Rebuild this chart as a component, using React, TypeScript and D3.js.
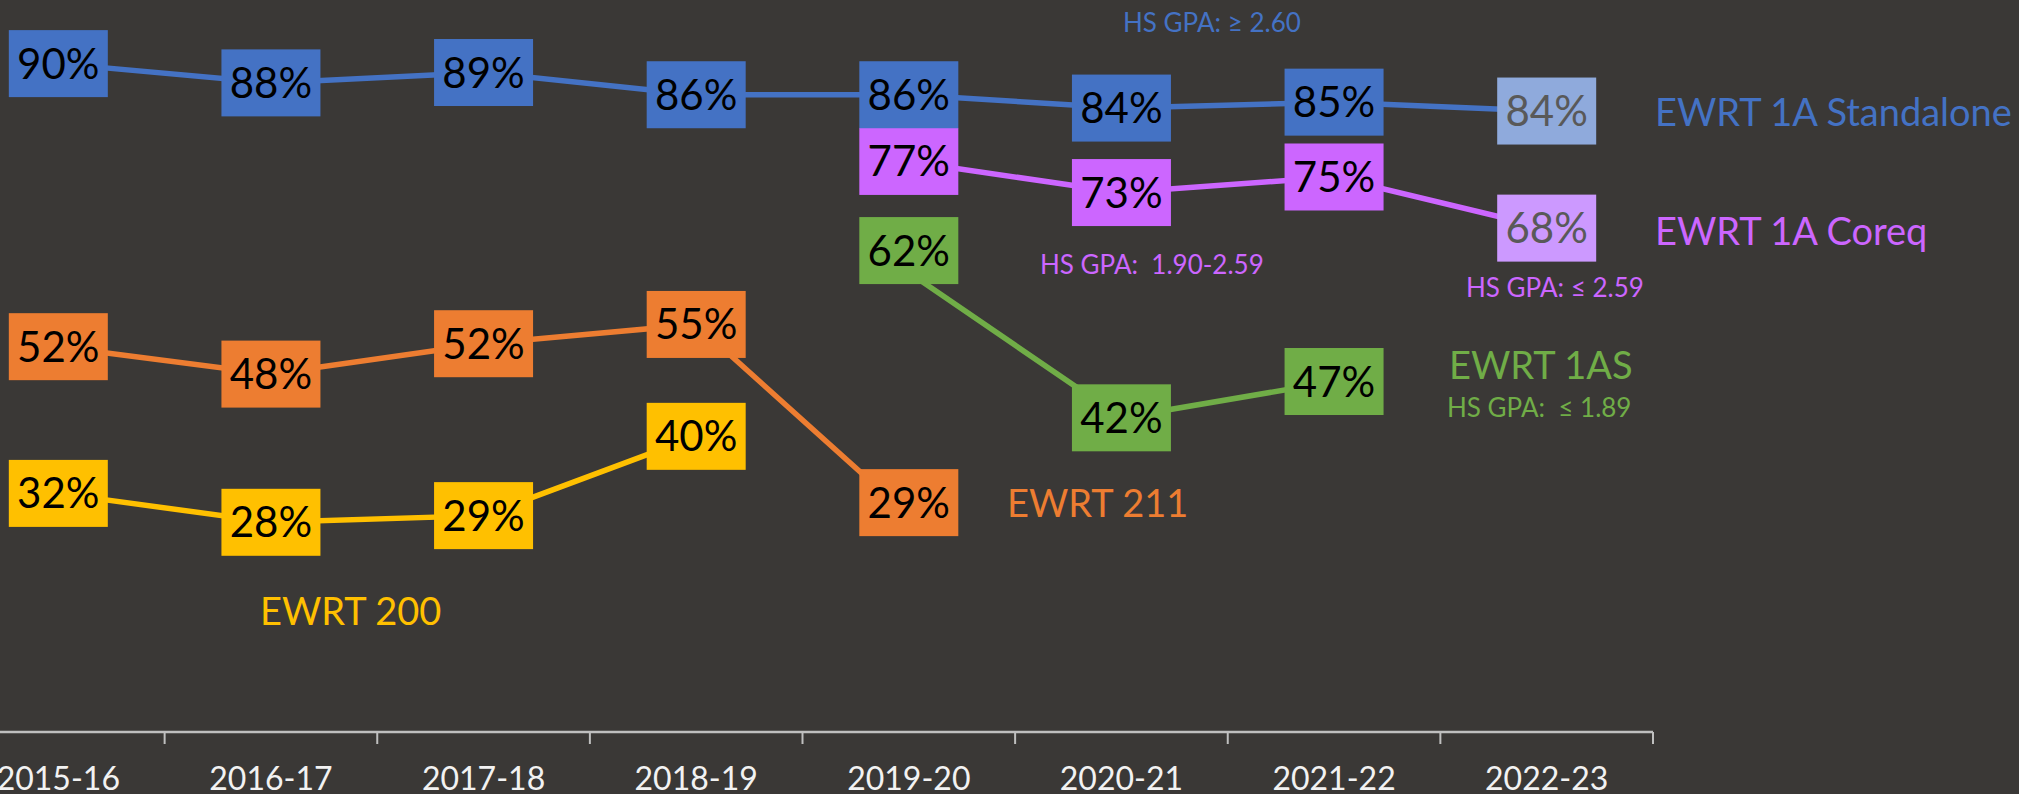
import { useEffect, useRef } from 'react';
import * as d3 from 'd3';

// ── data ──
const YEARS = ['2015-16', '2016-17', '2017-18', '2018-19', '2019-20', '2020-21', '2021-22', '2022-23'];

const STANDALONE = [90.2, 87.6, 89.0, 86.0, 86.0, 84.2, 85.0, 83.8];
const COREQ = [null, null, null, null, 77.0, 72.8, 74.9, 68.0];
const EWRT_1AS = [null, null, null, null, 62.0, 42.4, 47.3, null];
const EWRT_211 = [52.0, 48.3, 52.4, 55.0, 29.2, null, null, null];
const EWRT_200 = [32.2, 28.3, 29.2, 39.9, null, null, null, null];

const W = 2019;
const H = 794;
const BG = '#3a3836';
const FONT = 'Lato, "Open Sans", sans-serif';

type Series = {
  key: string;
  values: (number | null)[];
  color: string;
  // last point drawn as a lighter "projected" box
  lightLast?: string;
  // manual label nudges (Excel-dragged labels), by year index
  nudge?: Record<number, number>;
};

const SERIES: Series[] = [
  { key: 'ewrt200', values: EWRT_200, color: '#ffc000' },
  { key: 'ewrt211', values: EWRT_211, color: '#ed7d31', nudge: { 4: -13 } },
  { key: 'ewrt1as', values: EWRT_1AS, color: '#70ad47', nudge: { 4: -22 } },
  { key: 'coreq', values: COREQ, color: '#cc66ff', lightLast: '#cc99ff' },
  { key: 'standalone', values: STANDALONE, color: '#4472c4', lightLast: '#8faadc' },
];

// free-floating annotations (text boxes in the original)
const NOTES = [
  { text: 'HS GPA: ≥ 2.60', x: 1123, y: 32, size: 26, color: '#4472c4' },
  { text: 'EWRT 1A Standalone', x: 1655, y: 126, size: 38, color: '#4472c4' },
  { text: 'EWRT 1A Coreq', x: 1655, y: 245, size: 38, color: '#cc66ff' },
  { text: 'HS GPA:  1.90-2.59', x: 1040, y: 274, size: 26, color: '#cc66ff' },
  { text: 'HS GPA: ≤ 2.59', x: 1466, y: 297, size: 26, color: '#cc66ff' },
  { text: 'EWRT 1AS', x: 1449, y: 379, size: 38, color: '#70ad47' },
  { text: 'HS GPA:  ≤ 1.89', x: 1447, y: 417, size: 26, color: '#70ad47' },
  { text: 'EWRT 211', x: 1007, y: 517, size: 38, color: '#ed7d31' },
  { text: 'EWRT 200', x: 260, y: 625, size: 38, color: '#ffc000' },
];

export default function App() {
  const svgRef = useRef<SVGSVGElement>(null);

  useEffect(() => {
    if (!svgRef.current) return;
    document.body.style.margin = '0';
    const svg = d3.select(svgRef.current);
    svg.selectAll('*').remove();

    svg.append('rect').attr('width', W).attr('height', H).attr('fill', BG);

    // plot area runs a bit past the left edge (chart was cropped)
    const x = d3.scaleBand<string>().domain(YEARS).range([-48, 1653]).padding(0);
    const y = d3.scaleLinear().domain([0, 100]).range([732, -9]);
    const cx = (i: number) => (x(YEARS[i]) ?? 0) + x.bandwidth() / 2;

    // ── axis ──
    const axisY = y(0);
    const axis = svg.append('g');
    axis.append('line')
      .attr('x1', x.range()[0]).attr('x2', x.range()[1])
      .attr('y1', axisY).attr('y2', axisY)
      .attr('stroke', '#bfbfbf').attr('stroke-width', 2.5);
    const bounds = [...YEARS.map(d => x(d) ?? 0), x.range()[1]];
    axis.selectAll('line.tick')
      .data(bounds.slice(1))
      .join('line')
      .attr('class', 'tick')
      .attr('x1', d => d).attr('x2', d => d)
      .attr('y1', axisY).attr('y2', axisY + 12)
      .attr('stroke', '#bfbfbf').attr('stroke-width', 2);
    axis.selectAll('text')
      .data(YEARS)
      .join('text')
      .attr('x', (_, i) => cx(i))
      .attr('y', 790)
      .attr('text-anchor', 'middle')
      .attr('font-family', FONT)
      .attr('font-size', 32)
      .attr('fill', '#f2f2f2')
      .text(d => d);

    // ── lines ──
    const line = d3.line<number | null>()
      .defined(d => d != null)
      .x((_, i) => cx(i))
      .y(d => y(d as number));

    SERIES.forEach(s => {
      svg.append('path')
        .attr('d', line(s.values) ?? '')
        .attr('fill', 'none')
        .attr('stroke', s.color)
        .attr('stroke-width', 5.5);
    });

    // ── label boxes ──
    const boxW = 99;
    const boxH = 67;
    SERIES.forEach(s => {
      const lastIdx = s.values.reduce<number>((acc, v, i) => (v != null ? i : acc), -1);
      s.values.forEach((v, i) => {
        if (v == null) return;
        const light = s.lightLast && i === lastIdx;
        const px = cx(i);
        const py = y(v) + (s.nudge?.[i] ?? 0);
        const g = svg.append('g');
        g.append('rect')
          .attr('x', px - boxW / 2).attr('y', py - boxH / 2)
          .attr('width', boxW).attr('height', boxH)
          .attr('fill', light ? s.lightLast! : s.color);
        g.append('text')
          .attr('x', px).attr('y', py + 15)
          .attr('text-anchor', 'middle')
          .attr('font-family', FONT)
          .attr('font-size', 42)
          .attr('fill', light ? '#595959' : '#000')
          .text(`${Math.round(v)}%`);
      });
    });

    // ── annotations ──
    svg.selectAll('text.note')
      .data(NOTES)
      .join('text')
      .attr('class', 'note')
      .attr('x', d => d.x).attr('y', d => d.y)
      .attr('font-family', FONT)
      .attr('font-size', d => d.size)
      .attr('fill', d => d.color)
      .style('white-space', 'pre')
      .text(d => d.text);
  }, []);

  return (
    <svg
      ref={svgRef}
      width={W}
      height={H}
      style={{ position: 'absolute', left: 0, top: 0, display: 'block' }}
    />
  );
}
